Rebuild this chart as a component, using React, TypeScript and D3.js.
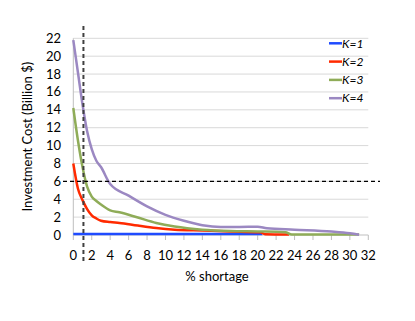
import React from "react";
import * as d3 from "d3";

const xTicks = [0, 2, 4, 6, 8, 10, 12, 14, 16, 18, 20, 22, 24, 26, 28, 30, 32];
const yTicks = [0, 2, 4, 6, 8, 10, 12, 14, 16, 18, 20, 22];
const seriesNames = ["K=1", "K=2", "K=3", "K=4"];
const seriesColors = ["#1f4bff", "#ff2a00", "#8fac58", "#9b88c2"];

const k1: [number, number][] = [[0, 0.12], [5, 0.12], [10, 0.12], [15, 0.12], [20.5, 0.1]];
const k2: [number, number][] = [
  [0, 8.0], [0.5, 5.2], [1, 3.9], [1.5, 2.9], [2, 2.2], [2.5, 1.85], [3, 1.6], [4, 1.45], [5, 1.35],
  [7, 1.05], [9, 0.78], [11, 0.6], [14, 0.5], [17, 0.4], [20.3, 0.3], [20.8, 0.08], [23.4, 0.05],
];
const k3: [number, number][] = [
  [0, 14.2], [0.5, 10.6], [1, 7.6], [1.5, 5.4], [2, 4.3], [2.5, 3.8], [3, 3.4], [4, 2.75], [5, 2.55],
  [7, 1.95], [9, 1.35], [11, 0.95], [14, 0.6], [17, 0.45], [20, 0.4], [23, 0.32], [23.7, 0.06], [31, 0.05],
];
const k4: [number, number][] = [
  [0, 21.8], [0.5, 18.2], [1, 14.6], [1.5, 11.6], [2, 9.6], [2.5, 8.3], [3, 7.6], [4, 5.7], [6, 4.4],
  [8, 3.2], [10, 2.25], [12, 1.6], [14, 1.1], [16, 0.9], [18, 0.9], [20, 0.92], [21, 0.75], [24, 0.6],
  [28, 0.4], [30, 0.2], [31, 0.03],
];
const allSeries = [k1, k2, k3, k4];

const thresholdX = 1.1;
const thresholdY = 6;

export default function App() {
  const W = 415, H = 321;
  const x = d3.scaleLinear().domain([0, 32]).range([73.3, 368.3]);
  const y = d3.scaleLinear().domain([0, 22]).range([235, 38.3]);
  const line = d3
    .line<[number, number]>()
    .x((d) => x(d[0]))
    .y((d) => y(d[1]))
    .curve(d3.curveMonotoneX);
  const font = "Lato, 'Open Sans', sans-serif";
  return (
    <svg width={W} height={H} style={{ position: "absolute", left: 0, top: 0 }} fontFamily={font}>
      <rect width={W} height={H} fill="#fff" />
      {yTicks.filter((t) => t > 0).map((t) => (
        <line key={t} x1={x(0)} x2={x(32)} y1={y(t)} y2={y(t)} stroke="#d9d9d9" strokeWidth={1} />
      ))}
      <line x1={x(0)} x2={x(0)} y1={y(22)} y2={y(0)} stroke="#bfbfbf" strokeWidth={1} />
      <line x1={x(0)} x2={x(32)} y1={y(0)} y2={y(0)} stroke="#bfbfbf" strokeWidth={1} />
      {xTicks.map((t) => (
        <line key={t} x1={x(t)} x2={x(t)} y1={y(0)} y2={y(0) + 5} stroke="#bfbfbf" strokeWidth={1} />
      ))}
      {yTicks.map((t) => (
        <text key={t} x={61} y={y(t)} dy="0.35em" textAnchor="end" fontSize={13} fill="#000">
          {t}
        </text>
      ))}
      {xTicks.map((t) => (
        <text key={t} x={x(t)} y={255} dy="0.35em" textAnchor="middle" fontSize={13} fill="#000">
          {t}
        </text>
      ))}
      <text x={217} y={276} dy="0.35em" textAnchor="middle" fontSize={13} fill="#000">
        % shortage
      </text>
      <text
        transform={`translate(27,${y(11)}) rotate(-90)`}
        textAnchor="middle"
        dy="0.35em"
        fontSize={13}
        fill="#000"
      >
        Investment Cost (Billion $)
      </text>
      {allSeries.map((s, i) => (
        <path key={i} d={line(s) || ""} fill="none" stroke={seriesColors[i]} strokeWidth={2.5} />
      ))}
      <line x1={63} x2={380} y1={y(thresholdY)} y2={y(thresholdY)} stroke="#000" strokeWidth={1.2} strokeDasharray="4,3" />
      <line x1={x(thresholdX)} x2={x(thresholdX)} y1={26} y2={262} stroke="#404040" strokeWidth={2} strokeDasharray="4,3" />
      {seriesNames.map((n, i) => (
        <g key={n} transform={`translate(329,${43.3 + i * 18.3})`}>
          <line x1={0} x2={13} y1={0} y2={0} stroke={seriesColors[i]} strokeWidth={2.5} />
          <text x={13} y={0} dy="0.35em" fontSize={12} fontStyle="italic" fill="#000">
            {n}
          </text>
        </g>
      ))}
    </svg>
  );
}
